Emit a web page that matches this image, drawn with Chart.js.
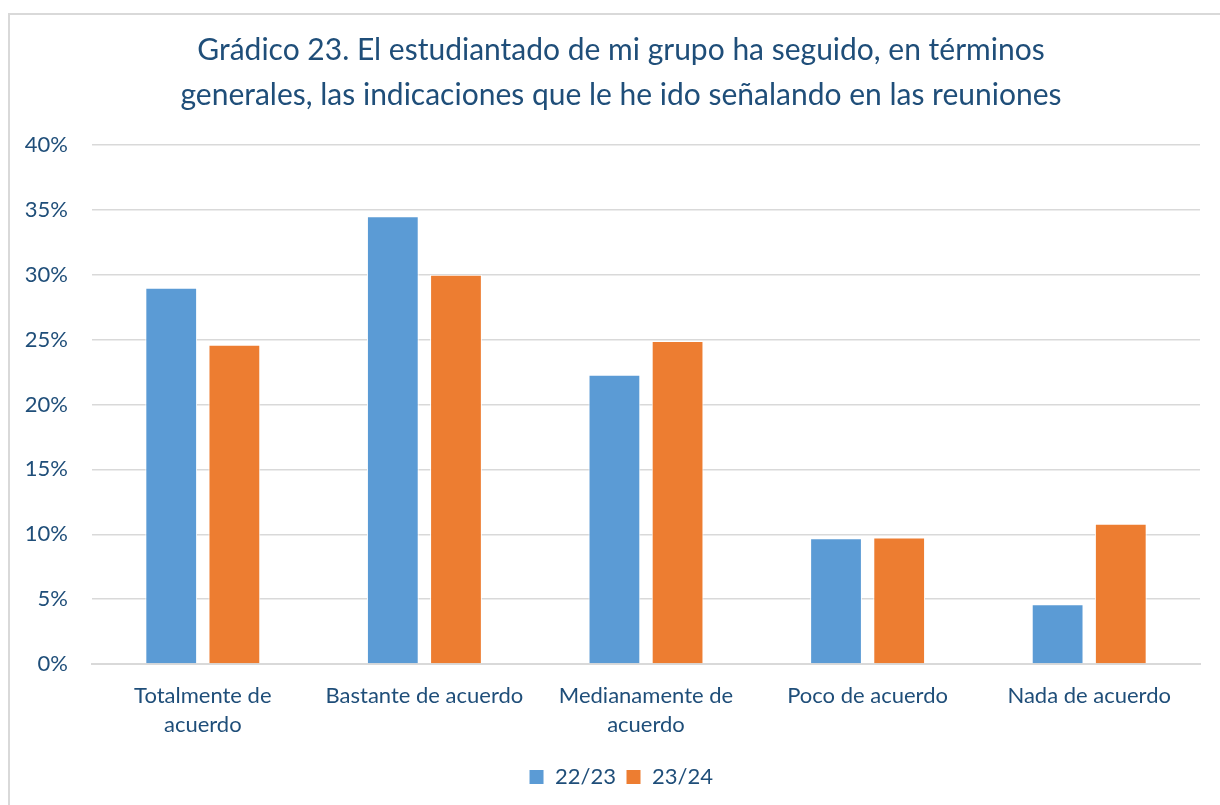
<!DOCTYPE html>
<html><head><meta charset="utf-8">
<script src="https://cdn.jsdelivr.net/npm/chart.js@4"></script>
<style>html,body{margin:0;padding:0;background:#fff;}#wrap{position:absolute;left:0;top:0;width:1220px;height:805px;}</style>
</head><body><div id="wrap"><canvas id="c" width="1220" height="805"></canvas></div>
<script>
const categories = [["Totalmente de","acuerdo"],"Bastante de acuerdo",["Medianamente de","acuerdo"],"Poco de acuerdo","Nada de acuerdo"];
const series2223 = [29.0, 34.5, 22.3, 9.7, 4.6];
const series2324 = [24.6, 30.0, 24.9, 9.75, 10.8];
const seriesLabels = ["22/23","23/24"];
const titleLines = ["Grádico 23. El estudiantado de mi grupo ha seguido, en términos","generales, las indicaciones que le he ido señalando en las reuniones"];
const yTicks = [0,5,10,15,20,25,30,35,40];

const TXT = '#1F4E79';
const FONT = 'Lato, "Open Sans", sans-serif';
const borderPlugin = {id:'frame',
  beforeDraw(ch){const c=ch.ctx;c.save();c.fillStyle='#fff';c.fillRect(0,0,ch.width,ch.height);c.strokeStyle='#d9d9d9';c.lineWidth=2;c.strokeRect(9,14,1230,800);c.restore();},
  afterLayout(ch){
    if(ch.titleBlock){ch.titleBlock.left+=21;ch.titleBlock.right+=21;}
    if(ch.legend){ch.legend.left+=21;ch.legend.right+=21;}
  }};
new Chart(document.getElementById('c'),{
  type:'bar',
  data:{labels:categories,datasets:[
    {label:seriesLabels[0],data:series2223,backgroundColor:'#5B9BD5',borderColor:'#ffffff',borderWidth:1,categoryPercentage:0.57,barPercentage:0.82},
    {label:seriesLabels[1],data:series2324,backgroundColor:'#ED7D31',borderColor:'#ffffff',borderWidth:1,categoryPercentage:0.57,barPercentage:0.82}
  ]},
  options:{responsive:false,animation:false,
    layout:{padding:{left:0,right:20,top:0,bottom:7}},
    plugins:{
      title:{display:true,text:titleLines,color:TXT,font:{family:FONT,size:30,weight:'normal',lineHeight:1.5},padding:{top:28,bottom:27}},
      legend:{position:'bottom',labels:{color:TXT,font:{family:FONT,size:22},boxWidth:15,boxHeight:15,padding:10}},
      tooltip:{enabled:false}
    },
    scales:{
      x:{grid:{display:false},border:{color:'#d9d9d9',width:2},ticks:{color:TXT,font:{family:FONT,size:22,lineHeight:1.32},maxRotation:0,autoSkip:false,padding:9},
         afterFit(s){s.height=92;}},
      y:{min:0,max:40,grid:{color:'#d9d9d9',lineWidth:1.5,drawTicks:false},border:{display:false},
         afterBuildTicks(s){s.ticks=yTicks.map(v=>({value:v}));},
         ticks:{color:TXT,font:{family:FONT,size:22},padding:24,callback:v=>v+'%'},
         afterFit(s){s.width=92;}}
    }
  },
  plugins:[borderPlugin]
});
</script></body></html>
